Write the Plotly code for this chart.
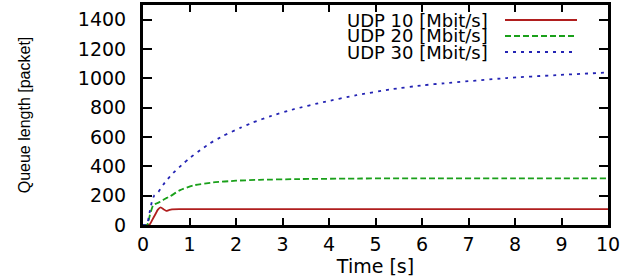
import plotly.graph_objects as go

# ---- data ----
t_udp10 = [0, 0.10, 0.14, 0.20, 0.26, 0.32, 0.38, 0.44, 0.50, 0.56, 0.62, 0.8, 1, 2, 3, 4, 5, 6, 7, 8, 9, 10]
q_udp10 = [0, 0, 2, 35, 70, 105, 120, 108, 96, 102, 107, 108, 108, 108, 108, 108, 108, 108, 108, 108, 108, 108]

t_udp20 = [0, 0.09, 0.15, 0.22, 0.30, 0.37, 0.51, 0.58, 0.80, 1.08, 1.51, 2.0, 2.5, 3.3, 4.7, 6, 8, 10]
q_udp20 = [0, 0, 70, 136, 148, 158, 185, 195, 238, 270, 290, 302, 308, 313, 317, 318, 318, 318]

t_udp30 = [0, 0.08, 0.15, 0.20, 0.24, 0.33, 0.47, 0.65, 0.87, 1.01, 1.23, 1.44, 1.73, 2.09, 2.37, 2.73,
           3.25, 3.88, 4.59, 5.31, 6.03, 6.47, 7.82, 8.89, 10]
q_udp30 = [0, 0, 100, 170, 200, 225, 290, 355, 420, 458, 510, 557, 609, 662, 700, 741,
           790, 838, 885, 924, 953, 966, 1002, 1022, 1040]

series_names = ["UDP 10 [Mbit/s]", "UDP 20 [Mbit/s]", "UDP 30 [Mbit/s]"]
x_ticks = [0, 1, 2, 3, 4, 5, 6, 7, 8, 9, 10]
y_ticks = [0, 200, 400, 600, 800, 1000, 1200, 1400]

# ---- style ----
colors = ["#b01e1e", "#1aa01a", "#2424b4"]
dashes = ["solid", "6px,3px", "3px,5px"]
W, H = 641, 279
L, R, T, B = 143, 33, 5, 54
TXT = dict(family="DejaVu Sans, Arial, sans-serif", size=19, color="black")
LEG = dict(family="DejaVu Sans, Arial, sans-serif", size=18, color="black")

fig = go.Figure()
for tx, qy, name, c, d in zip([t_udp10, t_udp20, t_udp30], [q_udp10, q_udp20, q_udp30],
                              series_names, colors, dashes):
    fig.add_trace(go.Scatter(x=tx, y=qy, mode="lines", name=name, showlegend=False,
                             line=dict(color=c, width=1.8, dash=d, shape="spline", smoothing=0.5)))

# manual legend: text on the left, line sample on the right (gnuplot style)
pw, ph = W - L - R, H - T - B
def px_x(px):
    return (px - L) / pw
def px_y(py):
    return (H - B - py) / ph
rows = [20, 36, 52]
for name, c, d, ry in zip(series_names, colors, dashes, rows):
    fig.add_annotation(x=px_x(490), y=px_y(ry), xref="paper", yref="paper", text=name,
                       showarrow=False, xanchor="right", yanchor="middle", font=LEG)
    fig.add_shape(type="line", xref="paper", yref="paper", x0=px_x(505), x1=px_x(577),
                  y0=px_y(ry), y1=px_y(ry), line=dict(color=c, width=1.8, dash=d))

axis_common = dict(showline=True, linecolor="black", linewidth=3, mirror="ticks",
                   ticks="inside", tickcolor="black", tickwidth=2, showgrid=False,
                   zeroline=False, tickfont=TXT)
fig.update_xaxes(range=[0, 10], tickvals=x_ticks, ticklen=7,
                 title=dict(text="Time [s]", font=TXT, standoff=2), **axis_common)
fig.update_yaxes(range=[0, 1500], tickvals=y_ticks, ticklen=9, ticklabelstandoff=10,
                 title=dict(text="Queue length [packet]",
                            font=dict(family="Liberation Sans, Arial, sans-serif", size=16, color="black"),
                            standoff=44), **axis_common)
fig.update_layout(width=W, height=H, margin=dict(l=L, r=R, t=T, b=B, autoexpand=False),
                  paper_bgcolor="white", plot_bgcolor="white")
fig.write_html("out.html", config={"displayModeBar": False},
               post_script="document.body.style.margin='0';")
